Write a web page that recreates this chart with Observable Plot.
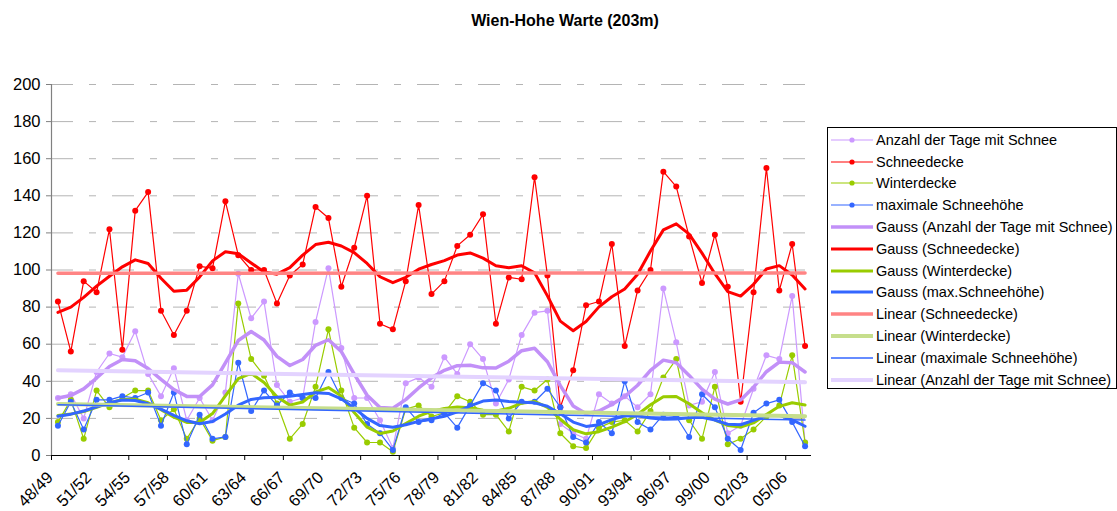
<!DOCTYPE html>
<html><head><meta charset="utf-8">
<script src="https://cdn.jsdelivr.net/npm/d3@7"></script>
<script src="https://cdn.jsdelivr.net/npm/@observablehq/plot@0.6"></script>
<style>
html,body{margin:0;padding:0;background:#fff;}
#wrap{position:relative;width:1117px;height:511px;overflow:hidden;font-family:"Liberation Sans",Arial,sans-serif;color:#000;}
#title{position:absolute;left:0;width:1130px;top:12px;text-align:center;font-weight:bold;font-size:16px;}
#chart{position:absolute;left:0;top:40px;}
#legend{position:absolute;left:827px;top:127px;width:290px;height:262px;border:1px solid #000;box-sizing:border-box;padding-top:1px;background:#fff;}
.row{height:21.8px;display:flex;align-items:center;font-size:14.5px;white-space:nowrap;}
.row svg{margin-left:3px;margin-right:3px;flex:none;}
</style></head>
<body><div id="wrap">
<div id="title">Wien-Hohe Warte (203m)</div>
<div id="chart"></div>
<div id="legend"></div>
</div>
<script>
const seasons = ["48/49","49/50","50/51","51/52","52/53","53/54","54/55","55/56","56/57","57/58",
"58/59","59/60","60/61","61/62","62/63","63/64","64/65","65/66","66/67","67/68",
"68/69","69/70","70/71","71/72","72/73","73/74","74/75","75/76","76/77","77/78",
"78/79","79/80","80/81","81/82","82/83","83/84","84/85","85/86","86/87","87/88",
"88/89","89/90","90/91","91/92","92/93","93/94","94/95","95/96","96/97","97/98",
"98/99","99/00","00/01","01/02","02/03","03/04","04/05","05/06","06/07"];

const anzahl = [31,33,20,45,55,53,67,44,32,47, 19,31,19,34,98,74,83,38,29,31,
72,101,58,31,31,19,4,39,42,37, 53,44,60,52,28,41,65,77,78,17,
12,9,33,28,32,26,33,90,61,27, 29,45,12,16,36,54,52,86,7];

const schneedecke = [83,56,94,88,122,57,132,142,78,65, 78,102,101,137,108,100,100,82,97,103,
134,128,91,112,140,71,68,94,135,87, 94,113,119,130,71,96,95,150,97,26,
46,81,83,114,59,89,100,153,145,118, 93,119,91,29,88,155,89,114,59];

const winterdecke = [18,30,9,35,26,31,35,35,19,25, 9,20,8,10,82,52,43,28,9,17,
37,68,35,15,7,7,2,25,27,21, 23,32,29,22,22,13,37,35,41,12,
5,4,15,18,19,13,24,42,52,19, 9,37,6,9,14,21,27,54,7];

const maxHoehe = [16,29,14,30,30,32,31,34,16,34, 6,22,9,10,50,24,35,27,34,31,
31,45,31,28,17,12,3,26,18,19, 23,15,27,39,35,20,29,29,36,26,
10,7,18,12,40,18,14,22,21,10, 33,26,9,3,23,28,30,18,5];

const labelEvery = 3;

// Gaussian low-pass computed from the series above
function gauss(vals, sigma) {
  return vals.map((_, i) => {
    let s = 0, w = 0;
    for (let j = 0; j < vals.length; j++) {
      const d = j - i;
      if (Math.abs(d) > 3 * sigma) continue;
      const k = Math.exp(-d * d / (2 * sigma * sigma));
      s += k * vals[j]; w += k;
    }
    return s / w;
  });
}
const SIG = 1.6;
const gA = gauss(anzahl, SIG), gS = gauss(schneedecke, SIG), gW = gauss(winterdecke, SIG), gM = gauss(maxHoehe, SIG);

const rows = seasons.map((s, i) => ({i, season: s, anzahl: anzahl[i], schnee: schneedecke[i], winter: winterdecke[i], maxh: maxHoehe[i],
  gA: gA[i], gS: gS[i], gW: gW[i], gM: gM[i]}));

const C = {
  purple: "#cc99ff", purpleG: "#c290f8", purpleL: "#e3d3ff",
  red: "#ff0000", redL: "#ff8484",
  green: "#99cc00", greenL: "#c6de8c",
  blue: "#3366ff"
};

const labelIdx = d3.range(0, seasons.length, labelEvery);
const boundaries = d3.range(-0.5, seasons.length - 1, labelEvery);

const chart = Plot.plot({
  width: 1117, height: 471,
  marginLeft: 51, marginRight: 306, marginTop: 44, marginBottom: 56,
  style: {fontFamily: "'Liberation Sans', Arial, sans-serif", fontSize: "16.5px", color: "#000", background: "transparent", overflow: "visible"},
  x: {type: "linear", domain: [-0.5, seasons.length - 0.5], axis: null},
  y: {domain: [0, 200], axis: null},
  marks: [
    Plot.ruleY(d3.range(20, 201, 20), {stroke: "#b4b4b4", strokeWidth: 1, strokeDasharray: "22,16,7,16"}),
    // raw series
    Plot.line(rows, {x: "i", y: "anzahl", stroke: C.purple, strokeWidth: 1.2}),
    Plot.dot(rows, {x: "i", y: "anzahl", fill: C.purple, r: 3}),
    Plot.line(rows, {x: "i", y: "schnee", stroke: C.red, strokeWidth: 1.2}),
    Plot.dot(rows, {x: "i", y: "schnee", fill: C.red, r: 3}),
    Plot.line(rows, {x: "i", y: "winter", stroke: C.green, strokeWidth: 1.2}),
    Plot.dot(rows, {x: "i", y: "winter", fill: C.green, r: 3}),
    Plot.line(rows, {x: "i", y: "maxh", stroke: C.blue, strokeWidth: 1.2}),
    Plot.dot(rows, {x: "i", y: "maxh", fill: C.blue, r: 3}),
    // Gauss
    Plot.line(rows, {x: "i", y: "gA", stroke: C.purpleG, strokeWidth: 3.5}),
    Plot.line(rows, {x: "i", y: "gS", stroke: C.red, strokeWidth: 3}),
    Plot.line(rows, {x: "i", y: "gW", stroke: C.green, strokeWidth: 3}),
    Plot.line(rows, {x: "i", y: "gM", stroke: C.blue, strokeWidth: 3}),
    // Linear trends
    Plot.linearRegressionY(rows, {x: "i", y: "schnee", stroke: C.redL, strokeWidth: 3.5, ci: 0}),
    Plot.linearRegressionY(rows, {x: "i", y: "winter", stroke: C.greenL, strokeWidth: 4, ci: 0}),
    Plot.linearRegressionY(rows, {x: "i", y: "maxh", stroke: C.blue, strokeWidth: 1.5, ci: 0}),
    Plot.linearRegressionY(rows, {x: "i", y: "anzahl", stroke: C.purpleL, strokeWidth: 4, ci: 0}),
    // axes
    Plot.ruleX([-0.5], {stroke: "#808080", strokeWidth: 1.2}),
    Plot.ruleY([0], {stroke: "#000", strokeWidth: 1.2}),
    Plot.axisY({ticks: d3.range(0, 201, 20), tickSize: 5, tickPadding: 6, stroke: "#808080", fontSize: 16.5, tickFormat: d => String(d), label: null}),
    Plot.axisX({ticks: boundaries, tickSize: 5, tickFormat: () => "", stroke: "#000", label: null}),
    Plot.text(labelIdx, {x: d => d, frameAnchor: "bottom", text: d => seasons[d], rotate: -45, textAnchor: "end", lineAnchor: "bottom", dx: -4, dy: 23, fontSize: 16.5, fill: "#000"})
  ]
});
document.getElementById("chart").appendChild(chart);

// legend
const legendItems = [
  {label: "Anzahl der Tage mit Schnee", color: C.purple, w: 1.2, dot: true},
  {label: "Schneedecke", color: C.red, w: 1.2, dot: true},
  {label: "Winterdecke", color: C.green, w: 1.2, dot: true},
  {label: "maximale Schneehöhe", color: C.blue, w: 1.2, dot: true},
  {label: "Gauss (Anzahl der Tage mit Schnee)", color: C.purpleG, w: 3.5},
  {label: "Gauss (Schneedecke)", color: C.red, w: 3},
  {label: "Gauss (Winterdecke)", color: C.green, w: 3},
  {label: "Gauss (max.Schneehöhe)", color: C.blue, w: 3},
  {label: "Linear (Schneedecke)", color: C.redL, w: 3.5},
  {label: "Linear (Winterdecke)", color: C.greenL, w: 4},
  {label: "Linear (maximale Schneehöhe)", color: C.blue, w: 1.5},
  {label: "Linear (Anzahl der Tage mit Schnee)", color: C.purpleL, w: 4}
];
const lg = document.getElementById("legend");
for (const it of legendItems) {
  const row = document.createElement("div");
  row.className = "row";
  row.innerHTML = `<svg width="42" height="10"><line x1="0" x2="42" y1="5" y2="5" stroke="${it.color}" stroke-width="${it.w}"/>${it.dot ? `<circle cx="21" cy="5" r="2.6" fill="${it.color}"/>` : ""}</svg><span>${it.label}</span>`;
  lg.appendChild(row);
}
</script>
</body></html>
